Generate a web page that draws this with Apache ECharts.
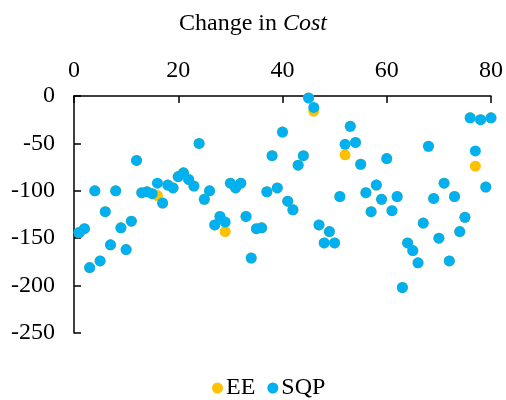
<!DOCTYPE html>
<html>
<head>
<meta charset="utf-8">
<script src="https://cdn.jsdelivr.net/npm/echarts@6/dist/echarts.min.js"></script>
<style>
  html, body { margin: 0; padding: 0; background: #fff; }
  #chart { width: 506px; height: 400px; }
</style>
</head>
<body>
<div id="chart"></div>
<script>
// run index 1..80
const runs = [];
for (let i = 1; i <= 80; i++) runs.push(i);

// SQP change in cost
const sqpValues = [
  -144, -140, -181, -100, -174, -122, -157, -100, -139, -162,
  -132, -68, -102, -101, -103, -92, -113, -94, -97, -85,
  -81, -88, -95, -50, -109, -100, -136, -127, -133, -92,
  -97, -92, -127, -171, -140, -139, -101, -63, -97, -38,
  -111, -120, -73, -63, -2, -12, -136, -155, -143, -155,
  -106, -51, -32, -49, -72, -102, -122, -94, -109, -66,
  -121, -106, -202, -155, -163, -176, -134, -53, -108, -150,
  -92, -174, -106, -143, -128, -23, -58, -25, -96, -23
];

// EE change in cost (mostly hidden under SQP)
const eeValues = [
  -144, -140, -181, -100, -174, -122, -157, -100, -139, -162,
  -132, -68, -102, -101, -103, -105, -113, -94, -97, -85,
  -81, -88, -95, -50, -109, -100, -136, -127, -143, -92,
  -97, -92, -127, -171, -140, -139, -101, -63, -97, -38,
  -111, -120, -73, -63, -2, -16, -136, -155, -143, -155,
  -106, -62, -32, -49, -72, -102, -122, -94, -109, -66,
  -121, -106, -202, -155, -163, -176, -134, -53, -108, -150,
  -92, -174, -106, -143, -128, -23, -74, -25, -96, -23
];

const seriesNames = ["EE", "SQP"];
const seriesColors = ["#FFC000", "#00B0F0"];

const font = "Liberation Serif";
const chart = echarts.init(document.getElementById("chart"));

const option = {
  animation: false,
  title: {
    text: "Change in {i|Cost}",
    left: "center",
    top: 7,
    textStyle: {
      fontFamily: font, fontSize: 24, fontWeight: "normal", color: "#000",
      rich: { i: { fontFamily: font, fontSize: 24, fontStyle: "italic", color: "#000" } }
    }
  },
  legend: {
    data: seriesNames,
    top: 371,
    left: 207,
    icon: "circle",
    itemWidth: 11,
    itemHeight: 11,
    itemGap: 12,
    textStyle: { fontFamily: font, fontSize: 24, color: "#000", padding: [0, 0, 0, -2] }
  },
  grid: { left: 74, right: 12, top: 96, bottom: 67 },
  xAxis: {
    type: "value",
    position: "top",
    min: 0, max: 80, interval: 20,
    splitLine: { show: false },
    axisLine: { lineStyle: { color: "#000", width: 1.5 } },
    axisTick: { inside: true, length: 7, lineStyle: { color: "#000", width: 1.5 } },
    axisLabel: { margin: 13, fontFamily: font, fontSize: 24, color: "#000" }
  },
  yAxis: {
    type: "value",
    min: -250, max: 0, interval: 50,
    splitLine: { show: false },
    axisLine: { show: true, lineStyle: { color: "#000", width: 1.5 } },
    axisTick: { show: true, inside: true, length: 7, lineStyle: { color: "#000", width: 1.5 } },
    axisLabel: { margin: 19, fontFamily: font, fontSize: 24, color: "#000" }
  },
  series: [
    {
      name: seriesNames[0],
      type: "scatter",
      symbolSize: 11,
      itemStyle: { color: seriesColors[0], opacity: 1 },
      data: runs.map((x, i) => [x, eeValues[i]])
    },
    {
      name: seriesNames[1],
      type: "scatter",
      symbolSize: 11,
      itemStyle: { color: seriesColors[1], opacity: 1 },
      data: runs.map((x, i) => [x, sqpValues[i]])
    }
  ]
};

chart.setOption(option);
</script>
</body>
</html>
